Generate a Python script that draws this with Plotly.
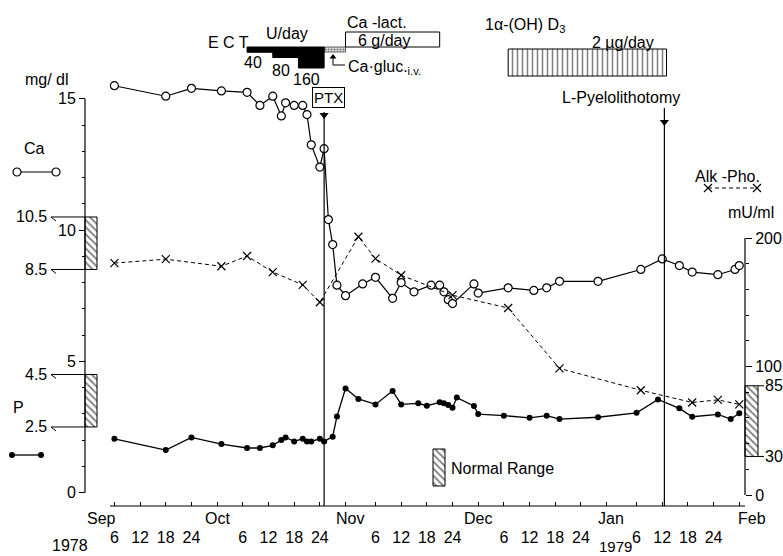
import plotly.graph_objects as go
from datetime import datetime, timedelta

# ---------------- data ----------------
ca_dates = ["1978-09-06", "1978-09-18", "1978-09-24", "1978-10-01", "1978-10-07",
            "1978-10-10", "1978-10-13", "1978-10-15", "1978-10-16", "1978-10-18",
            "1978-10-20", "1978-10-21", "1978-10-22", "1978-10-24", "1978-10-25",
            "1978-10-26", "1978-10-27", "1978-10-28", "1978-10-30", "1978-11-03",
            "1978-11-06", "1978-11-10", "1978-11-12", "1978-11-15", "1978-11-19",
            "1978-11-21", "1978-11-22", "1978-11-23", "1978-11-24", "1978-11-29",
            "1978-11-30", "1978-12-07", "1978-12-13", "1978-12-16", "1978-12-19",
            "1978-12-28", "1979-01-07", "1979-01-12", "1979-01-16", "1979-01-19",
            "1979-01-25", "1979-01-29", "1979-01-30"]
ca_values = [15.5, 15.1, 15.4, 15.3, 15.25, 14.75, 15.1, 14.35, 14.85, 14.75,
             14.75, 14.4, 13.25, 12.4, 13.1, 10.4, 9.45, 7.9, 7.5, 7.95,
             8.2, 7.4, 8.0, 7.65, 7.9, 7.9, 7.65, 7.35, 7.2, 7.95,
             7.6, 7.8, 7.7, 7.8, 8.05, 8.05, 8.5, 8.9, 8.65, 8.4,
             8.3, 8.5, 8.65]

p_dates = ["1978-09-06", "1978-09-18", "1978-09-24", "1978-10-01", "1978-10-07",
           "1978-10-10", "1978-10-13", "1978-10-15", "1978-10-16", "1978-10-18",
           "1978-10-20", "1978-10-21", "1978-10-22", "1978-10-24", "1978-10-25",
           "1978-10-27", "1978-10-28", "1978-10-30", "1978-11-02", "1978-11-06",
           "1978-11-10", "1978-11-12", "1978-11-16", "1978-11-18", "1978-11-21",
           "1978-11-22", "1978-11-23", "1978-11-24", "1978-11-25", "1978-11-29",
           "1978-11-30", "1978-12-06", "1978-12-12", "1978-12-16", "1978-12-19",
           "1978-12-28", "1979-01-06", "1979-01-11", "1979-01-16", "1979-01-19",
           "1979-01-25", "1979-01-28", "1979-01-30"]
p_values = [2.05, 1.62, 2.1, 1.85, 1.7, 1.7, 1.8, 2.0, 2.1, 1.95,
            2.05, 1.95, 1.95, 2.05, 1.95, 2.13, 2.9, 3.97, 3.57, 3.36,
            3.87, 3.36, 3.4, 3.31, 3.44, 3.4, 3.34, 3.23, 3.62, 3.3,
            2.99, 2.93, 2.85, 2.93, 2.8, 2.87, 3.04, 3.55, 3.21, 2.89,
            2.98, 2.8, 3.02]

alp_dates = ["1978-09-06", "1978-09-18", "1978-10-01", "1978-10-07", "1978-10-13",
             "1978-10-20", "1978-10-24", "1978-11-02", "1978-11-06", "1978-11-12",
             "1978-11-24", "1978-12-07", "1978-12-19", "1979-01-07", "1979-01-19",
             "1979-01-25", "1979-01-30"]
alp_values = [180.5, 183.5, 178, 186, 173.5, 163.5, 150, 201, 184, 171,
              155.5, 145.5, 98.5, 81.5, 72, 74, 70.5]

ca_normal = [8.5, 10.5]      # mg/dl
p_normal = [2.5, 4.5]        # mg/dl
alp_normal = [30, 85]        # mU/ml

ect_starts = ["1978-10-07", "1978-10-13", "1978-10-19"]
ect_ends = ["1978-10-13", "1978-10-19", "1978-10-25"]
ect_doses = [40, 80, 160]    # U/day
ca_gluc_period = ["1978-10-25", "1978-10-30"]
ca_lact_period = ["1978-10-30", "1978-11-21"]
d3_period = ["1978-12-07", "1979-01-13"]
ptx_date = "1978-10-25"
pyelo_date = "1979-01-12 12:00"

tick_months = [(1978, 9), (1978, 10), (1978, 11), (1978, 12), (1979, 1)]
tick_days = [6, 12, 18, 24]
minor_tick_dates = ["1978-09-30", "1978-10-30", "1978-11-30", "1978-12-30", "1979-01-30"]
month_labels = ["Sep", "Oct", "Nov", "Dec", "Jan", "Feb"]
month_label_dates = ["1978-09-03", "1978-09-30", "1978-10-31", "1978-11-30",
                     "1978-12-31", "1979-02-02"]
year_labels = ["1978", "1979"]

# ---------------- layout geometry (pixels) ----------------
W, H = 783, 556
SEP6 = datetime(1978, 9, 6)
X_SEP6_PX, PX_PER_DAY = 114.4, 4.28
AXIS_Y_PX = 506
LEFT_X_PX, RIGHT_X_PX = 85, 745
Y0_LEFT_PX, PX_PER_MG = 492.6, 26.25
Y0_RIGHT_PX, PX_PER_U = 495.0, 1.285
FONT = "Liberation Sans"


def px_to_date(px):
    return SEP6 + timedelta(days=(px - X_SEP6_PX) / PX_PER_DAY)


fig = go.Figure()

# main series
fig.add_trace(go.Scatter(
    x=alp_dates, y=alp_values, yaxis="y2", mode="lines+markers",
    line=dict(color="black", width=1, dash="4px,3px"),
    marker=dict(symbol="x-thin-open", size=8, line=dict(color="black", width=1.2)),
    name="Alk-Pho."))
fig.add_trace(go.Scatter(
    x=p_dates, y=p_values, mode="lines+markers",
    line=dict(color="black", width=1.3),
    marker=dict(symbol="circle", size=6, color="black"),
    name="P"))
fig.add_trace(go.Scatter(
    x=ca_dates, y=ca_values, mode="lines+markers",
    line=dict(color="black", width=1.2),
    marker=dict(symbol="circle", size=8, color="white", line=dict(color="black", width=1.2)),
    name="Ca"))

HATCH = dict(shape="\\", size=5, solidity=0.35, fgcolor="black", bgcolor="white")


def box(x0, x1, lo, hi, yaxis, pattern):
    fig.add_trace(go.Scatter(
        x=[x0, x1, x1, x0, x0], y=[lo, lo, hi, hi, lo], xaxis="x2", yaxis=yaxis,
        mode="lines", fill="toself", fillpattern=pattern,
        line=dict(color="black", width=1), hoverinfo="skip", showlegend=False))


# normal-range boxes
box(LEFT_X_PX, LEFT_X_PX + 12, ca_normal[0], ca_normal[1], "y", HATCH)
box(LEFT_X_PX, LEFT_X_PX + 12, p_normal[0], p_normal[1], "y", HATCH)
box(RIGHT_X_PX, RIGHT_X_PX + 13, alp_normal[0], alp_normal[1], "y2", HATCH)
box(433, 445, 449, 486, "y3", HATCH)  # "Normal Range" key

shapes = []
annotations = []


def text(x, y, s, size=16, xanchor="center", xref="x2", yref="y3", **kw):
    annotations.append(dict(x=x, y=y, text=s, xref=xref, yref=yref, showarrow=False,
                            xanchor=xanchor, yanchor="middle",
                            font=dict(family=FONT, size=size, color="black"), **kw))


def line(x0, y0, x1, y1, xref="x2", yref="y3", width=1.2, dash="solid"):
    shapes.append(dict(type="line", x0=x0, y0=y0, x1=x1, y1=y1, xref=xref, yref=yref,
                       line=dict(color="black", width=width, dash=dash)))


# axis lines
line(110, AXIS_Y_PX, RIGHT_X_PX, AXIS_Y_PX)
line(LEFT_X_PX, 0, LEFT_X_PX, 15, yref="y")
line(RIGHT_X_PX, 0, RIGHT_X_PX, 200, yref="y2")

# normal-range labels (left)
for v in ca_normal + p_normal:
    line(51, v, LEFT_X_PX, v, yref="y", width=1)
    shapes.append(dict(type="line", xref="x2", yref="y", ysizemode="pixel", yanchor=v,
                       x0=51, x1=56, y0=0, y1=-4, line=dict(color="black", width=1)))
    text(49, v, f"{v:g}", xanchor="right", yref="y")
# normal-range labels (right)
for v in alp_normal:
    line(RIGHT_X_PX + 13, v, RIGHT_X_PX + 19, v, yref="y2", width=1)
    text(RIGHT_X_PX + 18, v, f"{v:g}", xanchor="left", yref="y2")

# event lines with arrowheads
line(ptx_date, 112, ptx_date, AXIS_Y_PX, xref="x", width=1.2)
line(pyelo_date, 108, pyelo_date, AXIS_Y_PX, xref="x", width=1.2)
fig.add_trace(go.Scatter(x=[ptx_date, pyelo_date], y=[115, 122], xaxis="x", yaxis="y3",
                         mode="markers", marker=dict(symbol="triangle-down", size=8, color="black"),
                         hoverinfo="skip", showlegend=False))
text(328, 97, "PTX", size=15, bordercolor="black", borderwidth=1, borderpad=1)
text(621, 97, "L-Pyelolithotomy")

# treatment bars
BAR_TOP = 47
for s, e, dose in zip(ect_starts, ect_ends, ect_doses):
    shapes.append(dict(type="rect", xref="x", yref="y3", x0=s, x1=e, y0=BAR_TOP,
                       y1=BAR_TOP + dose / 160 * 21, fillcolor="black",
                       line=dict(color="black", width=1)))
fig.add_trace(go.Scatter(
    x=[ca_gluc_period[0], ca_gluc_period[1], ca_gluc_period[1], ca_gluc_period[0], ca_gluc_period[0]],
    y=[BAR_TOP, BAR_TOP, BAR_TOP + 5, BAR_TOP + 5, BAR_TOP], xaxis="x", yaxis="y3",
    mode="lines", fill="toself",
    fillpattern=dict(shape=".", size=3, solidity=0.5, fgcolor="black", bgcolor="white"),
    line=dict(color="black", width=0.6), hoverinfo="skip", showlegend=False))
shapes.append(dict(type="rect", xref="x", yref="y3", x0=ca_lact_period[0], x1=ca_lact_period[1],
                   y0=32, y1=BAR_TOP, fillcolor="white", line=dict(color="black", width=1)))
fig.add_trace(go.Scatter(
    x=[d3_period[0], d3_period[1], d3_period[1], d3_period[0], d3_period[0]],
    y=[49, 49, 76, 76, 49], xaxis="x", yaxis="y3", mode="lines", fill="toself",
    fillpattern=dict(shape="|", size=5, solidity=0.3, fgcolor="black", bgcolor="white"),
    line=dict(color="black", width=1), hoverinfo="skip", showlegend=False))

text(228, 42, "E C T")
text(287, 33, "U/day")
for (x, y), dose in zip([(253, 62), (281, 70), (306, 79)], ect_doses):
    text(x, y, str(dose))
line(333, 57, 333, 65, width=1)
line(333, 65, 345, 65, width=1)
fig.add_trace(go.Scatter(x=[333], y=[57], xaxis="x2", yaxis="y3", mode="markers",
                         marker=dict(symbol="triangle-up", size=6, color="black"),
                         hoverinfo="skip", showlegend=False))
text(346, 67, "Ca·gluc.<sub>i.v.</sub>", xanchor="left")
text(377, 22, "Ca -lact.")
text(356, 40, "6 g/day", xanchor="left")
text(483, 25, "1α-(OH) D<sub>3</sub>", xanchor="left")
text(590, 42, "2 µg/day", xanchor="left")

# legends / labels
text(47, 79, "mg/ dl")
text(34, 148, "Ca")
text(18, 407, "P")
text(727, 176, "Alk -Pho.")
text(751, 212, "mU/ml")
text(449, 468, "Normal Range", xanchor="left")
fig.add_trace(go.Scatter(x=[17, 56], y=[172, 172], xaxis="x2", yaxis="y3", mode="lines+markers",
                         line=dict(color="black", width=1.2),
                         marker=dict(symbol="circle", size=8, color="white",
                                     line=dict(color="black", width=1.2)),
                         hoverinfo="skip", showlegend=False))
fig.add_trace(go.Scatter(x=[12, 41], y=[455, 455], xaxis="x2", yaxis="y3", mode="lines+markers",
                         line=dict(color="black", width=1.3),
                         marker=dict(symbol="circle", size=6, color="black"),
                         hoverinfo="skip", showlegend=False))
fig.add_trace(go.Scatter(x=[708, 757], y=[188, 188], xaxis="x2", yaxis="y3", mode="lines+markers",
                         line=dict(color="black", width=1, dash="4px,3px"),
                         marker=dict(symbol="x-thin-open", size=8, line=dict(color="black", width=1.2)),
                         hoverinfo="skip", showlegend=False))

# month and year labels
for lab, d in zip(month_labels, month_label_dates):
    text(d, 518, lab, xref="x")
text(70, 545, year_labels[0], size=16)
text(615, 546, year_labels[1], size=15)

tickvals = [datetime(y, m, d) for (y, m) in tick_months for d in tick_days]
ticktext = [str(d) for (y, m) in tick_months for d in tick_days]

fig.update_layout(
    width=W, height=H, autosize=False,
    margin=dict(l=0, r=0, t=0, b=0),
    paper_bgcolor="white", plot_bgcolor="white",
    showlegend=False,
    font=dict(family=FONT, size=16, color="black"),
    xaxis=dict(type="date", domain=[0, 1], range=[px_to_date(0), px_to_date(W)],
               anchor="free", position=1 - AXIS_Y_PX / H,
               tickmode="array", tickvals=tickvals, ticktext=ticktext,
               ticks="inside", ticklen=4, tickcolor="black", tickwidth=1,
               ticklabelstandoff=20, showgrid=False, zeroline=False, showline=False,
               tickfont=dict(family=FONT, size=16, color="black"),
               minor=dict(tickmode="array", tickvals=minor_tick_dates, ticks="inside",
                          ticklen=4, tickcolor="black")),
    xaxis2=dict(overlaying="x", range=[0, W], visible=False, fixedrange=True),
    yaxis=dict(domain=[0, 1], range=[(Y0_LEFT_PX - H) / PX_PER_MG, Y0_LEFT_PX / PX_PER_MG],
               anchor="free", position=LEFT_X_PX / W, side="left",
               tickmode="array", tickvals=[0, 5, 10, 15], ticks="outside", ticklen=6,
               tickcolor="black", showgrid=False, zeroline=False, showline=False,
               tickfont=dict(family=FONT, size=16, color="black"),
               minor=dict(tickmode="array", tickvals=[v for v in range(1, 15) if v % 5],
                          ticks="outside", ticklen=3, tickcolor="black")),
    yaxis2=dict(overlaying="y", side="right", anchor="free", position=RIGHT_X_PX / W,
                range=[(Y0_RIGHT_PX - H) / PX_PER_U, Y0_RIGHT_PX / PX_PER_U],
                tickmode="array", tickvals=[0, 100, 200], ticks="outside", ticklen=6,
                tickcolor="black", showgrid=False, zeroline=False, showline=False,
                tickfont=dict(family=FONT, size=16, color="black"),
                minor=dict(tickmode="array", tickvals=[20, 40, 60, 80, 120, 140, 160, 180],
                           ticks="outside", ticklen=3, tickcolor="black")),
    yaxis3=dict(overlaying="y", range=[H, 0], visible=False, fixedrange=True),
    shapes=shapes, annotations=annotations,
)

fig.write_html("out.html", config={"displayModeBar": False},
               post_script="document.body.style.margin='0px';"
               "document.body.style.overflow='hidden';")
